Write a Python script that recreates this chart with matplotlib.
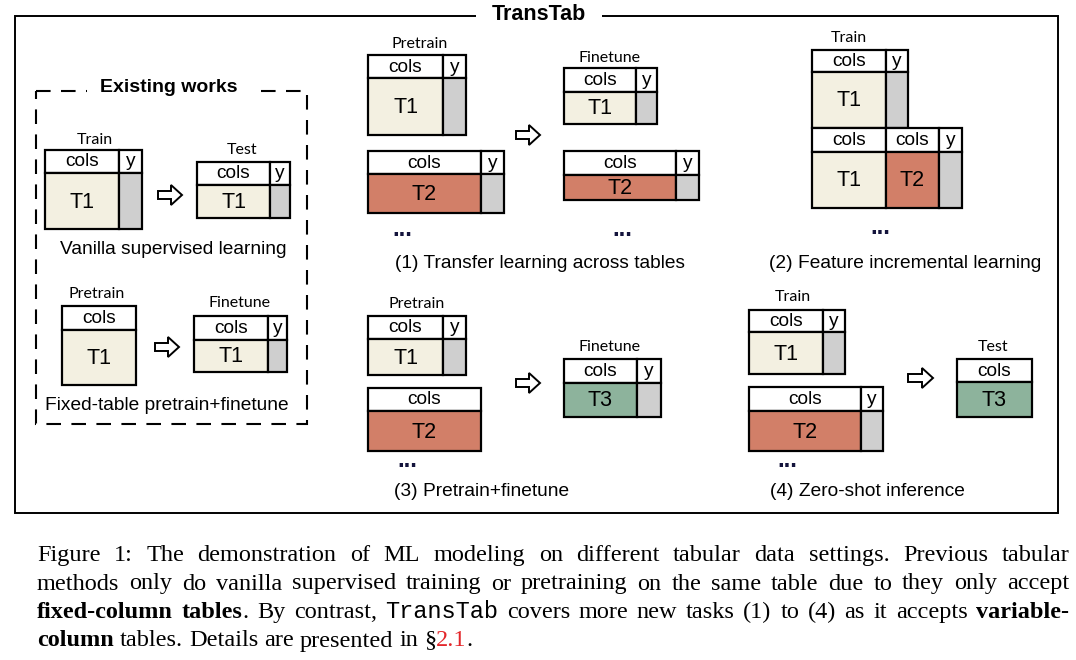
import re
import matplotlib
matplotlib.use("Agg")
import matplotlib.pyplot as plt
from matplotlib.patches import Rectangle, FancyArrow

# ---- text content of the figure ----
frame_title = "TransTab"
box_title = "Existing works"
setting_names = [
    "Vanilla supervised learning",
    "Fixed-table pretrain+finetune",
    "(1) Transfer learning across tables",
    "(2) Feature incremental learning",
    "(3) Pretrain+finetune",
    "(4) Zero-shot inference",
]
stage_names = ["Train", "Test", "Pretrain", "Finetune"]
col_header = "cols"
target_header = "y"
table_names = ["T1", "T2", "T3"]
more_tables = "..."

# **bold**, `mono`, {red}
caption_lines = [
    "Figure 1: The demonstration of ML modeling on different tabular data settings. Previous tabular",
    "methods only do vanilla supervised training or pretraining on the same table due to they only accept",
    "**fixed-column** **tables**. By contrast, `TransTab` covers more new tasks (1) to (4) as it accepts **variable-**",
    "**column** tables. Details are presented in §{2.1}.",
]

T1_FILL = "#f3f0e1"
T2_FILL = "#d27f68"
T3_FILL = "#8db39c"
Y_FILL = "#cfcfcf"
SANS = "Liberation Sans"
LABEL_FONT = "Lato"
SERIF = "Liberation Serif"
MONO = "Liberation Mono"
LW = 1.6

fig = plt.figure(figsize=(10.76, 6.6), dpi=100)
ax = fig.add_axes([0, 0, 1, 1])
ax.set_xlim(0, 1076)
ax.set_ylim(660, 0)
ax.axis("off")


def table(x0, y0, y_head, y1, cols):
    # cols: (right edge, header text, body fill, body text)
    left = x0
    for right, head, fill, body in cols:
        ax.add_patch(Rectangle((left, y0), right - left, y_head - y0,
                               fc="white", ec="black", lw=LW))
        ax.add_patch(Rectangle((left, y_head), right - left, y1 - y_head,
                               fc=fill, ec="black", lw=LW))
        ax.text((left + right) / 2, (y0 + y_head) / 2 + 0.5, head, family=SANS,
                fontsize=13.8, ha="center", va="center")
        if body:
            ax.text((left + right) / 2, (y_head + y1) / 2 + 1, body, family=SANS,
                    fontsize=15.5, ha="center", va="center")
        left = right


def stage(x, y, name):
    ax.text(x, y, name, family=LABEL_FONT, fontsize=11.5, ha="center", va="center")


def setting(x, y, name):
    ax.text(x, y, name, family=SANS, fontsize=13.8, ha="center", va="center")


def arrow(x0, x1, y):
    ax.add_patch(FancyArrow(x0, y, x1 - x0, 0, width=8, head_width=20, head_length=11,
                            length_includes_head=True, fc="white", ec="black", lw=1.4,
                            joinstyle="miter"))


def dots(x, y):
    ax.text(x, y, more_tables, family=SANS, fontsize=17, fontweight="bold",
            color="#14143c", ha="center", va="baseline")


T1, T2, T3 = table_names
c, yy = col_header, target_header

# outer frame
ax.add_patch(Rectangle((15, 16), 1043, 497, fill=False, ec="black", lw=1.4))
ax.text(539, 15, frame_title, family=SANS, fontsize=15.5, fontweight="bold",
        ha="center", va="center",
        bbox=dict(boxstyle="square,pad=0.75", fc="white", ec="none"))

# existing works box
ax.add_patch(Rectangle((36, 91), 271, 333, fill=False, ec="black", lw=1.5,
                       linestyle=(0, (7, 5))))
ax.text(169, 88, box_title, family=SANS, fontsize=14, fontweight="bold",
        ha="center", va="center",
        bbox=dict(boxstyle="square,pad=0.7", fc="white", ec="none"))

stage(95, 140, stage_names[0])
table(45, 150, 173, 229, [(119, c, T1_FILL, T1), (142, yy, Y_FILL, "")])
arrow(158, 182, 195)
stage(242, 150, stage_names[1])
table(197, 162, 185, 218, [(270, c, T1_FILL, T1), (290, yy, Y_FILL, "")])
setting(173, 249, setting_names[0])

stage(97, 294, stage_names[2])
table(62, 306, 330, 385, [(136, c, T1_FILL, T1)])
arrow(155, 179, 347)
stage(240, 303, stage_names[3])
table(194, 316, 340, 372, [(268, c, T1_FILL, T1), (287, yy, Y_FILL, "")])
setting(167, 405, setting_names[1])

# (1) transfer learning across tables
stage(420, 44, stage_names[2])
table(368, 55, 78, 135, [(443, c, T1_FILL, T1), (466, yy, Y_FILL, "")])
table(368, 151, 174, 213, [(481, c, T2_FILL, T2), (504, yy, Y_FILL, "")])
dots(402, 236)
arrow(516, 540, 135)
stage(610, 58, stage_names[3])
table(564, 68, 92, 124, [(636, c, T1_FILL, T1), (657, yy, Y_FILL, "")])
table(564, 151, 175, 200, [(676, c, T2_FILL, T2), (699, yy, Y_FILL, "")])
dots(622, 236)
setting(540, 263, setting_names[2])

# (2) feature incremental learning
stage(849, 38, stage_names[0])
table(812, 50, 72, 128, [(886, c, T1_FILL, T1), (908, yy, Y_FILL, "")])
table(812, 128, 152, 208, [(886, c, T1_FILL, T1), (939, c, T2_FILL, T2),
                           (962, yy, Y_FILL, "")])
dots(880, 234)
setting(905, 263, setting_names[3])

# (3) pretrain + finetune
stage(417, 304, stage_names[2])
table(368, 316, 339, 375, [(443, c, T1_FILL, T1), (466, yy, Y_FILL, "")])
table(368, 388, 411, 451, [(481, c, T2_FILL, T2)])
dots(407, 467)
arrow(516, 540, 383)
stage(609, 347, stage_names[3])
table(564, 359, 383, 417, [(637, c, T3_FILL, T3), (661, yy, Y_FILL, "")])
setting(482, 491, setting_names[4])

# (4) zero-shot inference
stage(793, 297, stage_names[0])
table(749, 310, 332, 374, [(823, c, T1_FILL, T1), (845, yy, Y_FILL, "")])
table(749, 387, 411, 451, [(861, c, T2_FILL, T2), (883, yy, Y_FILL, "")])
dots(787, 467)
arrow(908, 933, 378)
stage(993, 347, stage_names[1])
table(957, 359, 382, 417, [(1032, c, T3_FILL, T3)])
setting(867, 491, setting_names[5])

# ---- caption, justified ----
STYLE = {
    "n": dict(family=SERIF, fontsize=17.5, color="black"),
    "b": dict(family=SERIF, fontsize=17.5, fontweight="bold", color="black"),
    "m": dict(family=MONO, fontsize=17, color="black"),
    "r": dict(family=SERIF, fontsize=17.5, color="#e3262a"),
}
CAP_X0, CAP_X1 = 37, 1069
renderer = fig.canvas.get_renderer()


def runs(word):
    out = []
    for b, m, r, n in re.findall(r"\*\*(.+?)\*\*|`(.+?)`|\{(.+?)\}|([^*`{}]+)", word):
        if b:
            out.append((b, "b"))
        elif m:
            out.append((m, "m"))
        elif r:
            out.append((r, "r"))
        else:
            out.append((n, "n"))
    return out


def caption_line(text, y, justify):
    words = []
    for w in text.split(" "):
        parts = []
        for s, st in runs(w):
            t = ax.text(0, y, s, ha="left", va="baseline", **STYLE[st])
            parts.append((t, t.get_window_extent(renderer).width))
        words.append(parts)
    total = sum(wd for parts in words for _, wd in parts)
    gap = (CAP_X1 - CAP_X0 - total) / (len(words) - 1) if justify else 6
    x = CAP_X0
    for parts in words:
        for t, wd in parts:
            t.set_x(x)
            x += wd
        x += gap


for i, line in enumerate(caption_lines):
    caption_line(line, 561 + 28.5 * i, i < len(caption_lines) - 1)

fig.savefig("out.png", dpi=100)
